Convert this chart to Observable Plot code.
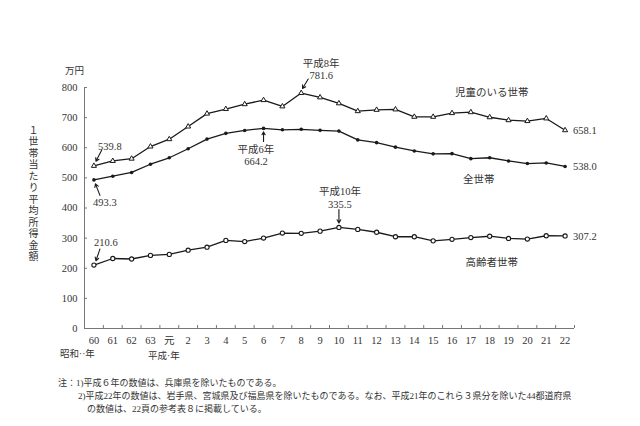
<!DOCTYPE html>
<html><head><meta charset="utf-8">
<script src="https://cdn.jsdelivr.net/npm/d3@7"></script>
<script src="https://cdn.jsdelivr.net/npm/@observablehq/plot@0.6"></script>
<style>
body{margin:0;background:#fff;font-family:'Liberation Serif','Noto Sans CJK JP',serif;color:#333}
#wrap{position:relative;width:640px;height:426px;overflow:hidden}
#wrap svg text{font-family:'Liberation Serif','Noto Sans CJK JP',serif}
.abs{position:absolute;white-space:nowrap;line-height:1.2}
#ytitle{writing-mode:vertical-rl;text-orientation:upright;font-size:10px;letter-spacing:1.5px}
</style></head><body><div id="wrap"></div>
<script>
// --- data ---
const xLabels = ["60","61","62","63","元","2","3","4","5","6","7","8","9","10","11","12","13","14","15","16","17","18","19","20","21","22"];
const children = [539.8,556.1,563.7,604.0,628.4,670.4,713.2,728.5,744.5,758.1,737.2,781.6,767.1,747.4,721.4,725.8,727.2,702.7,702.6,714.9,718.0,701.2,691.4,688.5,697.3,658.1];
const allHouseholds = [493.3,505.6,518.0,545.3,566.7,596.6,628.7,647.8,657.5,664.2,659.6,661.2,657.7,655.2,626.0,616.9,602.0,589.3,579.7,580.4,563.8,566.8,556.2,547.5,549.6,538.0];
const elderly = [210.6,232.4,230.7,242.6,246.0,260.0,269.8,292.5,288.6,300.2,316.9,316.0,323.1,335.5,328.9,319.5,304.6,304.6,290.9,296.1,301.9,306.3,298.9,297.0,307.9,307.2];
const yTicks = [0,100,200,300,400,500,600,700,800];
const seriesNames = ["児童のいる世帯","全世帯","高齢者世帯"];
const noteLines = [
  "注：1)平成６年の数値は、兵庫県を除いたものである。",
  "2)平成22年の数値は、岩手県、宮城県及び福島県を除いたものである。なお、平成21年のこれら３県分を除いた44都道府県",
  "の数値は、22頁の参考表８に掲載している。"
];

// --- layout ---
const W = 640, H = 370, mL = 84, mR = 66, mT = 87, mB = 42;
const pxX = (W - mL - mR) / xLabels.length;
const pxY = (H - mT - mB) / 800;
const idx = xLabels.map((_, i) => i);
const edges = [...idx.map(i => i - 0.5), xLabels.length - 0.5];
const toRows = arr => arr.map((v, i) => ({i, v}));
const C = toRows(children), A = toRows(allHouseholds), E = toRows(elderly);
const ink = "#1a1a1a";
const FS = 10.5;

function pt(rows, i) { return [rows[i]]; }
function label(rows, i, text, dx, dy, anchor = "middle") {
  return Plot.text(pt(rows, i), {x: "i", y: "v", text: () => text, dx, dy, textAnchor: anchor,
    fontSize: FS, fill: "#333", lineHeight: 1.2});
}
function arrow(rows, i, [sx, sy, ex, ey]) {
  return Plot.arrow(pt(rows, i), {
    x1: d => d.i + sx / pxX, y1: d => d.v - sy / pxY,
    x2: d => d.i + ex / pxX, y2: d => d.v - ey / pxY,
    stroke: ink, strokeWidth: 1.1, headLength: 5
  });
}

const chart = Plot.plot({
  width: W, height: H,
  marginLeft: mL, marginRight: mR, marginTop: mT, marginBottom: mB,
  style: {fontSize: "10px", color: "#333", background: "#fff"},
  x: {domain: [-0.5, xLabels.length - 0.5], axis: null},
  y: {domain: [0, 800], axis: null},
  marks: [
    Plot.ruleY([0], {stroke: "#777"}),
    Plot.ruleX([-0.5], {y1: 0, y2: 800, stroke: "#777"}),
    Plot.axisY({ticks: yTicks, tickSize: -3, tickPadding: 10, stroke: "#777", label: null, fontSize: 10.5}),
    Plot.axisX({ticks: edges, tickSize: -3, tickFormat: () => "", stroke: "#777", label: null}),
    Plot.axisX({ticks: idx, tickSize: 0, tickPadding: 8, tickFormat: i => xLabels[i], label: null, fontSize: 10.5}),
    Plot.line(C, {x: "i", y: "v", stroke: ink, strokeWidth: 1.3}),
    Plot.line(A, {x: "i", y: "v", stroke: ink, strokeWidth: 1.3}),
    Plot.line(E, {x: "i", y: "v", stroke: ink, strokeWidth: 1.3}),
    Plot.dot(C, {x: "i", y: "v", symbol: "triangle", r: 1.9, fill: "white", stroke: ink, strokeWidth: 1}),
    Plot.dot(A, {x: "i", y: "v", r: 1.8, fill: ink}),
    Plot.dot(E, {x: "i", y: "v", r: 2.1, fill: "white", stroke: ink, strokeWidth: 1.1}),
    // start annotations
    label(C, 0, children[0].toFixed(1), 16, -20),
    arrow(C, 0, [7.7, -15.6, 2, -4.6]),
    label(A, 0, allHouseholds[0].toFixed(1), 11, 22),
    arrow(A, 0, [6, 15.5, 1.5, 4]),
    label(E, 0, elderly[0].toFixed(1), 12, -23),
    arrow(E, 0, [6, -16, 2, -4.3]),
    // peak annotations
    label(C, 11, "平成" + xLabels[11] + "年\n" + children[11].toFixed(1), 20, -24),
    arrow(C, 11, [7, -14, 1.3, -4.5]),
    label(A, 9, "平成" + xLabels[9] + "年\n" + allHouseholds[9].toFixed(1), -7.6, 26.5),
    arrow(A, 9, [0, 13, 0, 3.5]),
    label(E, 13, "平成" + xLabels[13] + "年\n" + elderly[13].toFixed(1), 1, -30),
    arrow(E, 13, [0, -18, 0, -4.5]),
    // end labels
    label(C, 25, children[25].toFixed(1), 8, 0, "start"),
    label(A, 25, allHouseholds[25].toFixed(1), 8, 0, "start"),
    label(E, 25, elderly[25].toFixed(1), 8, 0, "start"),
    // series labels
    label(C, 21, seriesNames[0], 2, -25),
    label(A, 21, seriesNames[1], -11, 21),
    label(E, 21, seriesNames[2], 2, 26)
  ]
});

const wrap = document.getElementById("wrap");
chart.style.position = "absolute"; chart.style.left = "0"; chart.style.top = "0";
wrap.appendChild(chart);

function addText(text, left, centerY, size, id) {
  const d = document.createElement("div");
  d.className = "abs";
  if (id) d.id = id;
  d.textContent = text;
  d.style.left = left + "px";
  d.style.fontSize = size + "px";
  d.style.top = (centerY - size * 0.6) + "px";
  wrap.appendChild(d);
  return d;
}
addText("万円", 65, 72, 9.5);
const yt = addText("１世帯当たり平均所得金額", 26, 0, 10, "ytitle");
yt.style.top = "125px";
addText("昭和··年", 60, 355, 9.5);
addText("平成·年", 148, 357, 9.5);
addText(noteLines[0], 58, 383, 9);
addText(noteLines[1], 78, 396, 9);
addText(noteLines[2], 87, 409, 9);
</script></body></html>
